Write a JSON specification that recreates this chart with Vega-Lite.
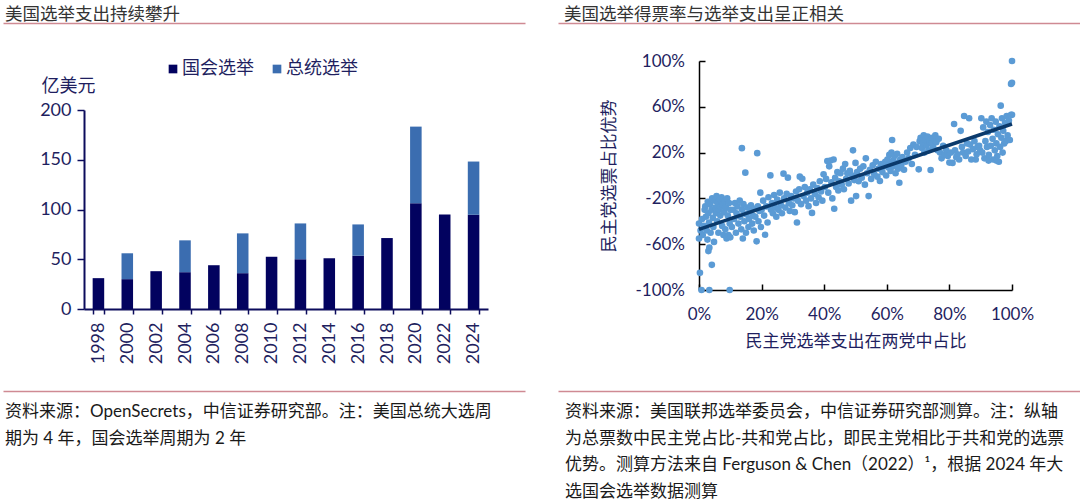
{
  "$schema": "https://vega.github.io/schema/vega-lite/v6.json",
  "padding": {"top": 5, "left": 0, "right": 0, "bottom": 0},
  "background": "white",
  "config": {"view": {"stroke": null}, "font": "Lato, Noto Sans CJK SC"},
  "datasets": {
    "blank": [{"v": 0}],
    "spend": [
      {"year": "1998", "type": "国会选举", "value": 31},
      {"year": "2000", "type": "国会选举", "value": 30},
      {"year": "2000", "type": "总统选举", "value": 26},
      {"year": "2002", "type": "国会选举", "value": 38},
      {"year": "2004", "type": "国会选举", "value": 37},
      {"year": "2004", "type": "总统选举", "value": 32},
      {"year": "2006", "type": "国会选举", "value": 44},
      {"year": "2008", "type": "国会选举", "value": 36},
      {"year": "2008", "type": "总统选举", "value": 40},
      {"year": "2010", "type": "国会选举", "value": 52.5},
      {"year": "2012", "type": "国会选举", "value": 50},
      {"year": "2012", "type": "总统选举", "value": 36},
      {"year": "2014", "type": "国会选举", "value": 51},
      {"year": "2016", "type": "国会选举", "value": 53.5},
      {"year": "2016", "type": "总统选举", "value": 31.5},
      {"year": "2018", "type": "国会选举", "value": 71.3},
      {"year": "2020", "type": "国会选举", "value": 106.3},
      {"year": "2020", "type": "总统选举", "value": 77},
      {"year": "2022", "type": "国会选举", "value": 95},
      {"year": "2024", "type": "国会选举", "value": 94.7},
      {"year": "2024", "type": "总统选举", "value": 53.5}
    ],
    "trend": [{"x": 0, "y": -0.47}, {"x": 1, "y": 0.45}],
    "scatter": [
      {"x":0.0,"y":-0.42},{"x":0.0,"y":-0.55},{"x":0.003,"y":-0.85},{"x":0.008,"y":-1.0},{"x":0.033,"y":-1.0},{"x":0.098,"y":-1.0},{"x":0.041,"y":-0.78},{"x":0.03,"y":-0.66},{"x":0.033,"y":-0.63},{"x":0.005,"y":-0.48},
      {"x":0.01,"y":-0.38},{"x":0.012,"y":-0.52},{"x":0.015,"y":-0.44},{"x":0.018,"y":-0.3},{"x":0.02,"y":-0.27},{"x":0.022,"y":-0.36},{"x":0.025,"y":-0.48},{"x":0.027,"y":-0.56},{"x":0.028,"y":-0.23},{"x":0.03,"y":-0.33},
      {"x":0.032,"y":-0.41},{"x":0.035,"y":-0.25},{"x":0.037,"y":-0.5},{"x":0.04,"y":-0.3},{"x":0.042,"y":-0.2},{"x":0.044,"y":-0.37},{"x":0.046,"y":-0.45},{"x":0.048,"y":-0.58},{"x":0.05,"y":-0.22},{"x":0.052,"y":-0.28},
      {"x":0.054,"y":-0.33},{"x":0.056,"y":-0.18},{"x":0.058,"y":-0.4},{"x":0.06,"y":-0.24},{"x":0.062,"y":-0.5},{"x":0.064,"y":-0.3},{"x":0.066,"y":-0.21},{"x":0.068,"y":-0.35},{"x":0.07,"y":-0.27},{"x":0.072,"y":-0.19},
      {"x":0.074,"y":-0.44},{"x":0.076,"y":-0.25},{"x":0.078,"y":-0.52},{"x":0.08,"y":-0.32},{"x":0.082,"y":-0.22},{"x":0.084,"y":-0.47},{"x":0.086,"y":-0.28},{"x":0.088,"y":-0.55},{"x":0.09,"y":-0.2},{"x":0.092,"y":-0.35},
      {"x":0.094,"y":-0.52},{"x":0.096,"y":-0.24},{"x":0.098,"y":-0.42},{"x":0.1,"y":-0.3},{"x":0.1,"y":-0.54},
      {"x":0.105,"y":-0.45},{"x":0.11,"y":-0.3},{"x":0.112,"y":-0.38},{"x":0.115,"y":-0.24},{"x":0.118,"y":-0.5},{"x":0.12,"y":-0.33},{"x":0.123,"y":-0.27},{"x":0.126,"y":-0.42},{"x":0.13,"y":-0.22},{"x":0.132,"y":-0.36},
      {"x":0.135,"y":-0.47},{"x":0.137,"y":0.239},{"x":0.138,"y":-0.3},{"x":0.14,"y":-0.55},{"x":0.142,"y":-0.25},{"x":0.145,"y":-0.4},{"x":0.148,"y":0.025},{"x":0.15,"y":-0.5},{"x":0.152,"y":-0.34},{"x":0.155,"y":-0.28},
      {"x":0.158,"y":-0.45},{"x":0.16,"y":-0.38},{"x":0.163,"y":-0.3},{"x":0.166,"y":-0.26},{"x":0.17,"y":-0.42},{"x":0.172,"y":-0.35},{"x":0.175,"y":-0.48},{"x":0.178,"y":-0.29},{"x":0.18,"y":-0.36},{"x":0.184,"y":-0.575},
      {"x":0.186,"y":0.195},{"x":0.188,"y":-0.27},{"x":0.19,"y":-0.4},{"x":0.193,"y":-0.31},{"x":0.196,"y":-0.15},{"x":0.198,"y":-0.45},{"x":0.2,"y":-0.3},
      {"x":0.205,"y":-0.22},{"x":0.208,"y":-0.35},{"x":0.211,"y":-0.517},{"x":0.215,"y":-0.27},{"x":0.219,"y":-0.41},{"x":0.222,"y":-0.19},{"x":0.228,"y":0.001},{"x":0.23,"y":-0.3},{"x":0.233,"y":-0.24},{"x":0.236,"y":-0.33},
      {"x":0.24,"y":-0.17},{"x":0.243,"y":-0.28},{"x":0.247,"y":-0.36},{"x":0.25,"y":-0.21},{"x":0.254,"y":-0.3},{"x":0.258,"y":-0.15},{"x":0.262,"y":-0.26},{"x":0.265,"y":-0.33},{"x":0.27,"y":0.016},{"x":0.272,"y":-0.2},
      {"x":0.276,"y":-0.28},{"x":0.28,"y":-0.16},{"x":0.284,"y":-0.019},{"x":0.287,"y":-0.24},{"x":0.29,"y":-0.31},{"x":0.294,"y":-0.18},{"x":0.298,"y":-0.26},
      {"x":0.302,"y":-0.2},{"x":0.306,"y":-0.32},{"x":0.31,"y":-0.14},{"x":0.313,"y":-0.41},{"x":0.316,"y":-0.22},{"x":0.32,"y":-0.12},{"x":0.322,"y":-0.01},{"x":0.326,"y":-0.25},{"x":0.33,"y":-0.028},{"x":0.334,"y":-0.18},
      {"x":0.338,"y":-0.1},{"x":0.342,"y":-0.22},{"x":0.346,"y":-0.15},{"x":0.35,"y":-0.268},{"x":0.354,"y":-0.12},{"x":0.358,"y":-0.2},{"x":0.361,"y":-0.327},{"x":0.365,"y":-0.08},{"x":0.37,"y":-0.16},{"x":0.374,"y":-0.24},
      {"x":0.378,"y":-0.11},{"x":0.382,"y":-0.19},{"x":0.386,"y":-0.05},{"x":0.39,"y":-0.14},{"x":0.394,"y":-0.22},{"x":0.398,"y":0.01},
      {"x":0.402,"y":-0.1},{"x":0.406,"y":-0.03},{"x":0.41,"y":0.127},{"x":0.413,"y":-0.15},{"x":0.416,"y":0.08},{"x":0.42,"y":0.13},{"x":0.423,"y":-0.06},{"x":0.426,"y":-0.2},{"x":0.43,"y":0.14},{"x":0.432,"y":-0.29},
      {"x":0.435,"y":-0.02},{"x":0.438,"y":-0.1},{"x":0.442,"y":0.03},{"x":0.445,"y":-0.13},{"x":0.448,"y":-0.05},{"x":0.452,"y":0.02},{"x":0.456,"y":-0.08},{"x":0.46,"y":0.06},{"x":0.463,"y":-0.12},{"x":0.467,"y":0.1},
      {"x":0.47,"y":-0.03},{"x":0.474,"y":0.02},{"x":0.478,"y":-0.07},{"x":0.482,"y":0.04},{"x":0.486,"y":-0.22},{"x":0.49,"y":0.0},{"x":0.492,"y":0.22},{"x":0.496,"y":-0.04},
      {"x":0.5,"y":0.11},{"x":0.502,"y":-0.18},{"x":0.505,"y":0.03},{"x":0.51,"y":-0.05},{"x":0.515,"y":0.06},{"x":0.52,"y":-0.02},{"x":0.525,"y":0.08},{"x":0.53,"y":-0.08},{"x":0.533,"y":0.15},{"x":0.537,"y":0.02},
      {"x":0.542,"y":-0.18},{"x":0.546,"y":0.05},{"x":0.55,"y":-0.03},{"x":0.555,"y":0.09},{"x":0.56,"y":0.01},{"x":0.565,"y":0.12},{"x":0.57,"y":-0.01},{"x":0.574,"y":0.06},{"x":0.578,"y":-0.048},{"x":0.582,"y":0.1},
      {"x":0.586,"y":0.03},{"x":0.59,"y":0.08},{"x":0.595,"y":0.12},{"x":0.598,"y":0.0},
      {"x":0.602,"y":0.14},{"x":0.605,"y":0.07},{"x":0.608,"y":0.18},{"x":0.61,"y":0.1},{"x":0.612,"y":0.04},{"x":0.615,"y":0.2},{"x":0.617,"y":0.31},{"x":0.62,"y":0.13},{"x":0.622,"y":0.08},{"x":0.625,"y":0.17},
      {"x":0.628,"y":0.02},{"x":0.63,"y":0.11},{"x":0.633,"y":0.19},{"x":0.636,"y":0.06},{"x":0.64,"y":-0.063},{"x":0.643,"y":0.14},{"x":0.646,"y":0.09},{"x":0.65,"y":0.16},{"x":0.655,"y":0.05},{"x":0.66,"y":0.12},
      {"x":0.665,"y":0.2},{"x":0.67,"y":0.15},{"x":0.675,"y":0.24},{"x":0.68,"y":0.1},{"x":0.685,"y":0.27},{"x":0.69,"y":0.18},{"x":0.695,"y":0.25},
      {"x":0.702,"y":0.054},{"x":0.705,"y":0.3},{"x":0.708,"y":0.33},{"x":0.712,"y":0.24},{"x":0.715,"y":0.28},{"x":0.718,"y":0.35},{"x":0.72,"y":0.2},{"x":0.724,"y":0.31},{"x":0.727,"y":0.26},{"x":0.73,"y":0.34},
      {"x":0.733,"y":0.22},{"x":0.736,"y":0.3},{"x":0.74,"y":0.048},{"x":0.742,"y":0.28},{"x":0.745,"y":0.33},{"x":0.748,"y":0.25},{"x":0.752,"y":0.31},{"x":0.755,"y":0.35},{"x":0.758,"y":0.29},{"x":0.762,"y":0.22},
      {"x":0.766,"y":0.32},{"x":0.77,"y":0.2},{"x":0.775,"y":0.15},{"x":0.78,"y":0.26},{"x":0.785,"y":0.18},{"x":0.79,"y":0.22},{"x":0.795,"y":0.17},{"x":0.8,"y":0.113},
      {"x":0.805,"y":0.2},{"x":0.81,"y":0.11},{"x":0.815,"y":0.45},{"x":0.818,"y":0.22},{"x":0.822,"y":0.16},{"x":0.826,"y":0.185},{"x":0.831,"y":0.14},{"x":0.836,"y":0.39},{"x":0.84,"y":0.25},{"x":0.844,"y":0.2},
      {"x":0.847,"y":0.52},{"x":0.852,"y":0.17},{"x":0.856,"y":0.28},{"x":0.86,"y":0.21},{"x":0.863,"y":0.5},{"x":0.866,"y":0.27},{"x":0.87,"y":0.14},{"x":0.875,"y":0.23},{"x":0.88,"y":0.3},{"x":0.884,"y":0.14},
      {"x":0.887,"y":0.186},{"x":0.89,"y":0.25},{"x":0.895,"y":0.26},{"x":0.898,"y":0.22},
      {"x":0.902,"y":0.5},{"x":0.905,"y":0.2},{"x":0.908,"y":0.42},{"x":0.912,"y":0.15},{"x":0.915,"y":0.3},{"x":0.918,"y":0.47},{"x":0.92,"y":0.25},{"x":0.923,"y":0.38},{"x":0.926,"y":0.18},{"x":0.93,"y":0.44},
      {"x":0.932,"y":0.26},{"x":0.935,"y":0.5},{"x":0.938,"y":0.32},{"x":0.94,"y":0.14},{"x":0.942,"y":0.4},{"x":0.945,"y":0.22},{"x":0.948,"y":0.47},{"x":0.95,"y":0.28},{"x":0.953,"y":0.17},{"x":0.955,"y":0.36},
      {"x":0.958,"y":0.12},{"x":0.96,"y":0.43},{"x":0.962,"y":0.25},{"x":0.964,"y":0.61},{"x":0.966,"y":0.33},{"x":0.968,"y":0.5},{"x":0.97,"y":0.2},{"x":0.972,"y":0.39},{"x":0.975,"y":0.28},{"x":0.978,"y":0.46},
      {"x":0.98,"y":0.3},{"x":0.983,"y":0.52},{"x":0.986,"y":0.35},{"x":0.99,"y":0.48},{"x":0.993,"y":0.31},{"x":0.997,"y":0.53},{"x":1.0,"y":1.0},{"x":1.0,"y":0.81},{"x":0.997,"y":0.8},{"x":1.0,"y":0.53},
      {"x":0.95,"y":0.13},{"x":0.925,"y":0.13}
    ]
  },
  "spacing": 30,
  "resolve": {"scale": {"color": "independent"}, "legend": {"color": "independent"}},
  "hconcat": [
    {
      "spacing": 0,
      "resolve": {"scale": {"color": "independent"}, "legend": {"color": "independent"}},
      "vconcat": [
        {
          "width": 522, "height": 37,
          "data": {"name": "blank"},
          "title": {"text": "美国选举支出持续攀升", "orient": "top", "anchor": "start", "frame": "group", "offset": 0, "dx": 2, "fontSize": 17.5, "fontWeight": "normal", "color": "#333333", "font": "Noto Sans CJK SC"},
          "mark": {"type": "point", "opacity": 0},
          "encoding": {"x": {"field": "v", "type": "quantitative", "scale": {"domain": [0, 1]}, "axis": {"orient": "top", "domain": true, "domainColor": "#cf8a93", "domainWidth": 1.5, "ticks": false, "labels": false, "grid": false, "title": null}}}
        },
        {
          "spacing": 0,
          "resolve": {"scale": {"color": "independent"}, "legend": {"color": "independent"}},
          "hconcat": [
            {
              "width": 36, "height": 1,
              "data": {"name": "blank"},
              "mark": {"type": "point", "opacity": 0},
              "encoding": {}
            },
            {
              "width": 404, "height": 199,
              "data": {"name": "spend"},
              "mark": {"type": "bar"},
              "encoding": {
                "x": {"field": "year", "type": "ordinal", "scale": {"paddingInner": 0.6, "paddingOuter": 0.3},
                  "axis": {"title": null, "labelAngle": -90, "labelAlign": "right", "labelBaseline": "middle", "labelFontSize": 18, "labelFont": "Lato", "labelColor": "#1f1f5f", "labelPadding": 8, "tickBand": "extent", "tickSize": 5, "tickColor": "#0c0c5c", "tickWidth": 1.5, "domainColor": "#0c0c5c", "domainWidth": 2, "grid": false}},
                "y": {"field": "value", "type": "quantitative", "stack": "zero", "scale": {"domain": [0, 200], "nice": false},
                  "axis": {"values": [0, 50, 100, 150, 200], "title": "亿美元", "titleAngle": 0, "titleAlign": "center", "titleBaseline": "middle", "titleX": -16, "titleY": -24, "titleFontSize": 18, "titleFontWeight": "normal", "titleColor": "#1f1f5f", "titleFont": "Noto Sans CJK SC", "labelFontSize": 18, "labelFont": "Lato", "labelColor": "#1f1f5f", "labelPadding": 6, "tickSize": 7, "tickColor": "#0c0c5c", "tickWidth": 1.5, "domainColor": "#0c0c5c", "domainWidth": 2, "grid": false}},
                "color": {"field": "type", "type": "nominal", "sort": ["国会选举", "总统选举"],
                  "scale": {"domain": ["国会选举", "总统选举"], "range": ["#02025f", "#3b6db0"]},
                  "legend": {"title": null, "orient": "none", "legendX": 80, "legendY": -50, "direction": "horizontal", "symbolType": "square", "symbolSize": 75, "symbolStrokeWidth": 0, "labelFontSize": 18, "labelColor": "#1f1f5f", "labelFont": "Noto Sans CJK SC", "columnPadding": 14, "labelOffset": 0, "padding": 0}},
                "order": {"field": "type", "type": "nominal", "sort": "ascending"}
              }
            }
          ]
        },
        {
          "width": 522, "height": 27,
          "data": {"name": "blank"},
          "title": {"text": ["资料来源：OpenSecrets，中信证券研究部。注：美国总统大选周", "期为 4 年，国会选举周期为 2 年"], "orient": "bottom", "anchor": "start", "frame": "group", "baseline": "top", "offset": 13, "dx": 2, "fontSize": 17, "lineHeight": 26.5, "fontWeight": "normal", "color": "#1a1a1a", "font": "Lato, Noto Sans CJK SC"},
          "mark": {"type": "point", "opacity": 0},
          "encoding": {"x": {"field": "v", "type": "quantitative", "scale": {"domain": [0, 1]}, "axis": {"orient": "bottom", "domain": true, "domainColor": "#cf8a93", "domainWidth": 1.5, "ticks": false, "labels": false, "grid": false, "title": null}}}
        }
      ]
    },
    {
      "spacing": 0,
      "vconcat": [
        {
          "width": 528, "height": 29,
          "data": {"name": "blank"},
          "title": {"text": "美国选举得票率与选举支出呈正相关", "orient": "top", "anchor": "start", "frame": "group", "offset": 0, "dx": 6, "fontSize": 17.5, "fontWeight": "normal", "color": "#333333", "font": "Noto Sans CJK SC"},
          "mark": {"type": "point", "opacity": 0},
          "encoding": {"x": {"field": "v", "type": "quantitative", "scale": {"domain": [0, 1]}, "axis": {"orient": "top", "domain": true, "domainColor": "#cf8a93", "domainWidth": 1.5, "ticks": false, "labels": false, "grid": false, "title": null}}}
        },
        {
          "spacing": 0,
          "hconcat": [
            {
              "width": 42, "height": 1,
              "data": {"name": "blank"},
              "mark": {"type": "point", "opacity": 0},
              "encoding": {}
            },
            {
              "width": 313, "height": 229,
              "layer": [
                {
                  "data": {"name": "scatter"},
                  "mark": {"type": "circle", "size": 44, "color": "#5b9bd5", "opacity": 1},
                  "encoding": {
                    "x": {"field": "x", "type": "quantitative", "scale": {"domain": [0, 1], "nice": false, "zero": false},
                      "axis": {"values": [0, 0.2, 0.4, 0.6, 0.8, 1], "format": ".0%", "labelFlush": false, "title": "民主党选举支出在两党中占比", "titleFontSize": 17, "titleFont": "Noto Sans CJK SC", "titleFontWeight": "normal", "titleColor": "#1f1f5f", "titlePadding": 11, "labelFontSize": 17, "labelFont": "Lato", "labelColor": "#1f1f5f", "labelPadding": 22.5, "tickSize": -6, "tickColor": "#000000", "tickWidth": 1.5, "domainColor": "#000000", "domainWidth": 1.5, "grid": false}},
                    "y": {"field": "y", "type": "quantitative", "scale": {"domain": [-1, 1], "nice": false, "zero": false},
                      "axis": {"values": [-1, -0.6, -0.2, 0.2, 0.6, 1], "format": ".0%", "labelExpr": "replace(datum.label, '−', '-')", "labelFlush": false, "title": "民主党选票占比优势", "titleFontSize": 17, "titleFont": "Noto Sans CJK SC", "titleFontWeight": "normal", "titleColor": "#1f1f5f", "titlePadding": 16, "labelFontSize": 17, "labelFont": "Lato", "labelColor": "#1f1f5f", "labelPadding": 20.5, "tickSize": -6, "tickColor": "#000000", "tickWidth": 1.5, "domainColor": "#000000", "domainWidth": 1.5, "grid": false}}
                  }
                },
                {
                  "data": {"name": "trend"},
                  "mark": {"type": "line", "color": "#0b3a6c", "strokeWidth": 3.5},
                  "encoding": {
                    "x": {"field": "x", "type": "quantitative"},
                    "y": {"field": "y", "type": "quantitative"}
                  }
                }
              ]
            }
          ]
        },
        {
          "width": 528, "height": 41,
          "data": {"name": "blank"},
          "title": {"text": ["资料来源：美国联邦选举委员会，中信证券研究部测算。注：纵轴", "为总票数中民主党占比-共和党占比，即民主党相比于共和党的选票", "优势。测算方法来自 Ferguson & Chen（2022）¹，根据 2024 年大", "选国会选举数据测算"], "orient": "bottom", "anchor": "start", "frame": "group", "baseline": "top", "offset": 13, "dx": 7, "fontSize": 17, "lineHeight": 26.7, "fontWeight": "normal", "color": "#1a1a1a", "font": "Lato, Noto Sans CJK SC"},
          "mark": {"type": "point", "opacity": 0},
          "encoding": {"x": {"field": "v", "type": "quantitative", "scale": {"domain": [0, 1]}, "axis": {"orient": "bottom", "domain": true, "domainColor": "#cf8a93", "domainWidth": 1.5, "ticks": false, "labels": false, "grid": false, "title": null}}}
        }
      ]
    }
  ]
}
